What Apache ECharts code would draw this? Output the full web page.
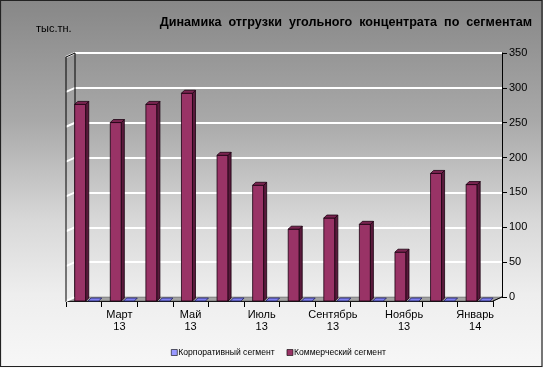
<!DOCTYPE html>
<html><head><meta charset="utf-8">
<script src="https://cdn.jsdelivr.net/npm/echarts@6/dist/echarts.min.js"></script>
<style>html,body{margin:0;padding:0;}#c{width:543px;height:368px;}</style>
</head><body><div id="c"></div>
<script>
const categories = ['Февраль\n13','Март\n13','Апрель\n13','Май\n13','Июнь\n13','Июль\n13','Август\n13','Сентябрь\n13','Октябрь\n13','Ноябрь\n13','Декабрь\n13','Январь\n14'];
const corporate = [0,0,0,0,0,0,0,0,0,0,0,0];
const commercial = [282,256,282,298,209,166,103,119,110,70,183,167];
const yMin = 0, yMax = 350, yStep = 50;
const seriesNames = ['Корпоративный сегмент','Коммерческий сегмент'];

const chart = echarts.init(document.getElementById('c'), null, {renderer:'canvas'});
const DX = 3, DY = -3;

function barRender(color, side, topc, offset, widthFrac, stroke) {
  return function(params, api) {
    const i = api.value(0), v = api.value(1);
    const top = api.coord([i, v]);
    const base = api.coord([i, 0]);
    const bw = api.size([1, 0])[0];
    const x0 = top[0] - bw / 2 + offset * bw;
    const w = widthFrac * bw;
    const children = [];
    const h = base[1] - top[1];
    if (h > 0.5) {
      children.push({type:'rect', shape:{x:x0, y:top[1], width:w, height:h},
        style:{fill:color, stroke:stroke, lineWidth:0.8}});
      children.push({type:'polygon', shape:{points:[[x0+w, top[1]],[x0+w+DX, top[1]+DY],[x0+w+DX, base[1]+DY],[x0+w, base[1]]]},
        style:{fill:side, stroke:stroke, lineWidth:0.8}});
    }
    children.push({type:'polygon', shape:{points:[[x0, top[1]],[x0+DX, top[1]+DY],[x0+w+DX, top[1]+DY],[x0+w, top[1]]]},
      style:{fill:topc, stroke:stroke, lineWidth:0.8}});
    return {type:'group', children};
  };
}

const option = {
  animation: false,
  backgroundColor: {type:'linear', x:0, y:0, x2:0, y2:1, colorStops:[
    {offset:0, color:'#878787'},{offset:0.33, color:'#a9a9a9'},{offset:0.6, color:'#d8d8d8'},
    {offset:0.8, color:'#eeeeee'},{offset:1, color:'#f7f7f7'}]},
  title: {
    text: 'Динамика  отгрузки  угольного  концентрата  по  сегментам',
    right: 6, top: 11,
    textStyle: {fontFamily:'Arial, Liberation Sans', fontSize:12.6, fontWeight:'bold', color:'#000'}
  },
  legend: {
    data: [{name:seriesNames[0], icon:'rect'}, {name:seriesNames[1], icon:'rect'}],
    bottom: 6, left: 166,
    itemWidth: 6, itemHeight: 6, itemGap: 12,
    textStyle: {fontFamily:'Arial, Liberation Sans', fontSize:8.6, color:'#000', padding:[0,0,0,-4]},
    itemStyle: {borderColor:'#000', borderWidth:0.6}
  },
  grid: [
    {left:75, right:41, top:53, bottom:71},
    {left:66, right:50, top:57, bottom:67}
  ],
  xAxis: [
    {type:'category', gridIndex:0, data:categories, show:false},
    {type:'category', gridIndex:1, data:categories,
      axisLine:{show:true, lineStyle:{color:'#000', width:1}},
      axisTick:{show:true, interval:0, length:6, lineStyle:{color:'#000'}},
      axisLabel:{interval:function(idx){return idx % 2 === 1;}, margin:8,
        fontFamily:'Arial, Liberation Sans', fontSize:11, color:'#000', lineHeight:12}}
  ],
  yAxis: [
    {type:'value', gridIndex:0, position:'right', min:yMin, max:yMax, interval:yStep,
      axisLine:{show:true, lineStyle:{color:'#000', width:1}},
      axisTick:{show:true, length:5, lineStyle:{color:'#000'}},
      axisLabel:{margin:7, fontFamily:'Arial, Liberation Sans', fontSize:11, color:'#000'},
      splitLine:{show:true, lineStyle:{color:'#ffffff', width:2}}},
    {type:'value', gridIndex:1, min:yMin, max:yMax, interval:yStep, show:false, splitLine:{show:false}}
  ],
  series: [
    {name:seriesNames[1], type:'custom', xAxisIndex:1, yAxisIndex:1, z:3,
      itemStyle:{color:'#993366'},
      renderItem: barRender('#993366','#5a1a3c','#7a2450',0.245,0.31,'#1a0010'),
      encode:{x:0, y:1},
      data: commercial.map((v,i)=>[i,v])},
    {name:seriesNames[0], type:'custom', xAxisIndex:1, yAxisIndex:1, z:3,
      itemStyle:{color:'#9999ff'},
      renderItem: barRender('#9999ff','#6666cc','#8080ee',0.62,0.3,'#202060'),
      encode:{x:0, y:1},
      data: corporate.map((v,i)=>[i,v])}
  ]
};
chart.setOption(option);

// decorations: 3D walls / floor computed from the axes
const bl = chart.convertToPixel({xAxisIndex:0, yAxisIndex:0}, [0, 0]);
const bw0 = chart.getModel().getComponent('xAxis',0).axis.getBandWidth();
const backL = bl[0] - bw0/2, backR = backL + bw0 * categories.length;
const fl = chart.convertToPixel({xAxisIndex:1, yAxisIndex:1}, [0, 0]);
const bw1 = chart.getModel().getComponent('xAxis',1).axis.getBandWidth();
const frontL = fl[0] - bw1/2, frontR = frontL + bw1 * categories.length;
const backY = v => chart.convertToPixel({yAxisIndex:0}, v);
const frontY = v => chart.convertToPixel({yAxisIndex:1}, v);
const g = [];
g.push({type:'polygon', z:1, shape:{points:[[frontL, frontY(0)],[frontR, frontY(0)],[backR, backY(0)],[backL, backY(0)]]},
  style:{fill:'#a3a3a3', stroke:'#555', lineWidth:0.6}});
for (let v = yMin; v <= yMax; v += yStep) {
  g.push({type:'line', z:1, shape:{x1:frontL, y1:frontY(v), x2:backL, y2:backY(v)}, style:{stroke:'#fff', lineWidth:2}});
}
g.push({type:'line', z:2, shape:{x1:backL, y1:backY(yMax), x2:backL, y2:backY(0)}, style:{stroke:'#000', lineWidth:1}});
g.push({type:'line', z:2, shape:{x1:frontL, y1:frontY(yMax), x2:frontL, y2:frontY(0)}, style:{stroke:'#000', lineWidth:1}});
g.push({type:'line', z:2, shape:{x1:frontL, y1:frontY(yMax), x2:backL, y2:backY(yMax)}, style:{stroke:'#000', lineWidth:1}});
g.push({type:'line', z:2, shape:{x1:frontR, y1:frontY(0), x2:backR, y2:backY(0)}, style:{stroke:'#000', lineWidth:1}});
g.push({type:'rect', z:5, shape:{x:0.5, y:0.5, width:541.5, height:366}, style:{fill:'none', stroke:'#222', lineWidth:1.2}});
g.push({type:'text', z:5, left:36, top:23, style:{text:'тыс.тн.', fill:'#000', font:'11px Arial, "Liberation Sans"'}});
chart.setOption({graphic: g});
</script></body></html>
